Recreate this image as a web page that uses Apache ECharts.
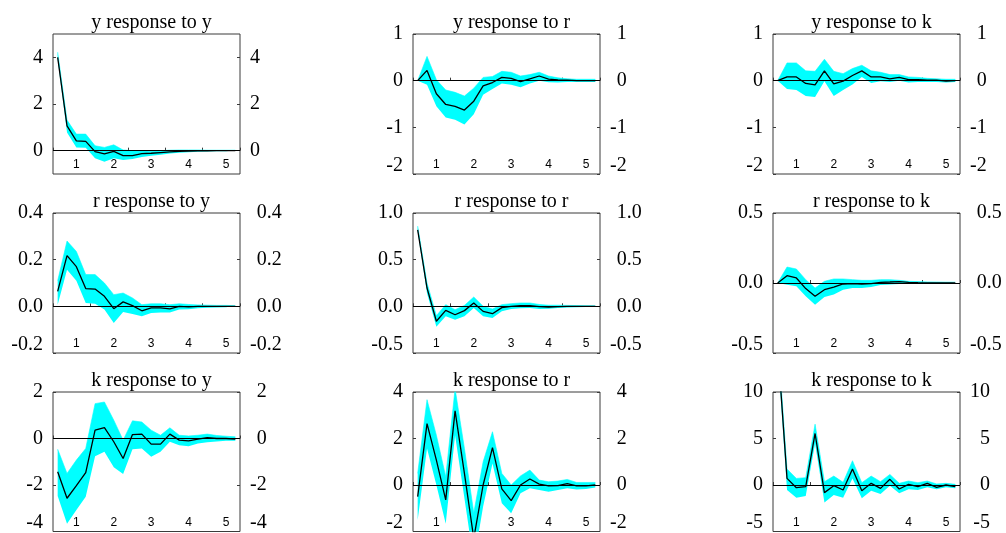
<!DOCTYPE html>
<html><head><meta charset="utf-8">
<script src="https://cdn.jsdelivr.net/npm/echarts@6/dist/echarts.min.js"></script>
<style>html,body{margin:0;padding:0;background:#fff}#c{width:1006px;height:533px}</style>
</head><body><div id="c"></div>
<script>
// ---- data ----
const steps = [1,2,3,4,5,6,7,8,9,10,11,12,13,14,15,16,17,18,19,20];
const yearLabels = ['1','2','3','4','5'];
const titles = ['y response to y','y response to r','y response to k',
                'r response to y','r response to r','r response to k',
                'k response to y','k response to r','k response to k'];

const resp_yy = [4.0,1.06,0.42,0.40,-0.04,-0.14,-0.03,-0.21,-0.21,-0.13,-0.11,-0.08,-0.05,-0.03,-0.02,-0.01,-0.01,0.0,0.0,0.0];
const hi_yy   = [4.22,1.31,0.71,0.71,0.21,0.14,0.25,0.03,0.0,0.0,-0.02,0.0,0.02,0.03,0.03,0.03,0.02,0.02,0.02,0.02];
const lo_yy   = [3.9,0.78,0.14,0.12,-0.33,-0.47,-0.33,-0.40,-0.36,-0.27,-0.22,-0.17,-0.12,-0.09,-0.07,-0.05,-0.04,-0.03,-0.03,-0.02];

const resp_yr = [0,0.22,-0.28,-0.51,-0.55,-0.63,-0.44,-0.11,-0.04,0.07,0.05,-0.02,0.04,0.10,0.035,0.015,0.01,0.0,0.0,0.0];
const hi_yr   = [0,0.52,0.02,-0.20,-0.25,-0.33,-0.16,0.07,0.09,0.20,0.18,0.10,0.13,0.18,0.10,0.06,0.04,0.03,0.03,0.03];
const lo_yr   = [0,-0.09,-0.55,-0.79,-0.84,-0.94,-0.72,-0.30,-0.18,-0.06,-0.09,-0.14,-0.06,0.0,-0.035,-0.04,-0.03,-0.03,-0.03,-0.03];

const resp_yk = [0,0.08,0.08,-0.06,-0.09,0.21,-0.07,-0.01,0.11,0.21,0.08,0.08,0.04,0.07,0.02,0.02,0.01,0.01,-0.01,0.0];
const hi_yk   = [0,0.38,0.38,0.21,0.20,0.46,0.20,0.15,0.26,0.33,0.21,0.18,0.13,0.13,0.08,0.07,0.05,0.04,0.03,0.03];
const lo_yk   = [0,-0.18,-0.20,-0.33,-0.35,-0.01,-0.33,-0.20,-0.08,0.08,-0.05,-0.01,-0.03,0.0,-0.04,-0.03,-0.03,-0.03,-0.04,-0.03];

const resp_ry = [0.064,0.217,0.17,0.076,0.074,0.043,-0.01,0.019,0.003,-0.019,-0.007,-0.007,-0.011,0.0,-0.002,0.0,0.0,0.0,0.0,0.0];
const hi_ry   = [0.11,0.28,0.235,0.136,0.136,0.10,0.05,0.057,0.036,0.007,0.011,0.011,0.007,0.011,0.008,0.006,0.005,0.004,0.004,0.003];
const lo_ry   = [0.007,0.157,0.11,0.014,0.011,-0.014,-0.071,-0.024,-0.033,-0.043,-0.029,-0.026,-0.026,-0.014,-0.012,-0.008,-0.006,-0.005,-0.004,-0.003];

const resp_rr = [0.82,0.196,-0.16,-0.043,-0.09,-0.046,0.036,-0.054,-0.079,-0.014,0.0,0.007,0.007,-0.004,-0.007,-0.003,0.0,0.0,0.0,0.0];
const hi_rr   = [0.86,0.25,-0.10,0.018,-0.036,0.01,0.10,0.0,-0.029,0.018,0.029,0.036,0.036,0.02,0.012,0.012,0.01,0.008,0.007,0.006];
const lo_rr   = [0.80,0.14,-0.22,-0.107,-0.143,-0.107,-0.018,-0.107,-0.125,-0.054,-0.029,-0.021,-0.018,-0.029,-0.025,-0.018,-0.012,-0.01,-0.008,-0.007];

const resp_rk = [0,0.052,0.036,-0.04,-0.095,-0.048,-0.029,-0.007,-0.005,-0.007,-0.005,0.005,0.007,0.01,0.004,0.002,0.001,0.0,0.0,0.0];
const hi_rk   = [0,0.114,0.10,0.024,-0.036,0.012,0.029,0.029,0.024,0.019,0.019,0.024,0.024,0.019,0.012,0.01,0.008,0.007,0.006,0.006];
const lo_rk   = [0,-0.012,-0.024,-0.095,-0.155,-0.10,-0.083,-0.048,-0.036,-0.036,-0.029,-0.014,-0.01,-0.007,-0.006,-0.006,-0.006,-0.005,-0.005,-0.005];

const resp_ky = [-1.43,-2.57,-2.03,-1.47,0.36,0.47,-0.14,-0.86,0.17,0.19,-0.24,-0.24,0.19,-0.07,-0.10,-0.03,0.04,0.0,0.0,-0.03];
const hi_ky   = [-0.46,-1.5,-0.93,-0.43,1.5,1.57,0.79,-0.07,0.76,0.71,0.36,0.14,0.46,0.14,0.11,0.14,0.19,0.13,0.10,0.07];
const lo_ky   = [-2.47,-3.67,-3.07,-2.5,-0.76,-0.57,-1.24,-1.53,-0.46,-0.43,-0.79,-0.57,-0.14,-0.29,-0.33,-0.21,-0.16,-0.13,-0.10,-0.10];

const resp_kr = [-0.5,2.64,1.07,-0.64,3.19,0.5,-2.3,0.0,1.61,-0.17,-0.67,0.0,0.26,0.04,-0.04,-0.03,0.06,-0.04,-0.04,0.0];
const hi_kr   = [0.5,3.67,2.14,0.36,4.14,1.57,-1.2,1.0,2.29,0.5,0.0,0.39,0.64,0.21,0.14,0.17,0.24,0.11,0.11,0.11];
const lo_kr   = [-1.5,1.57,0.0,-1.67,2.14,-0.57,-3.3,-0.93,0.93,-0.79,-1.21,-0.36,-0.14,-0.21,-0.29,-0.21,-0.14,-0.19,-0.17,-0.11];

const resp_kk = [15.0,0.71,-0.29,-0.18,5.54,-0.82,-0.07,-0.54,1.71,-0.61,0.18,-0.36,0.61,-0.43,0.07,-0.18,0.18,-0.25,0.0,-0.18];
const hi_kk   = [16.0,1.71,0.71,0.79,6.54,0.36,0.96,0.29,2.61,0.25,0.96,0.36,1.14,0.18,0.43,0.25,0.43,0.11,0.18,0.07];
const lo_kk   = [14.0,-0.54,-1.36,-1.18,4.46,-1.89,-1.07,-1.36,0.71,-1.43,-0.61,-0.96,-0.07,-0.89,-0.46,-0.54,-0.25,-0.46,-0.25,-0.36];

const yMin = [-1,-2,-2,-0.2,-0.5,-0.5,-4,-2,-5];
const yMax = [5,1,1,0.4,1.0,0.5,2,4,10];
const yTicks = [[0,2,4],[-2,-1,0,1],[-2,-1,0,1],[-0.2,0,0.2,0.4],[-0.5,0,0.5,1],[-0.5,0,0.5],[-4,-2,0,2],[-2,0,2,4],[-5,0,5,10]];
const yDecimals = [0,0,0,1,1,1,0,0,0];

// ---- build ----
const resps = [resp_yy,resp_yr,resp_yk,resp_ry,resp_rr,resp_rk,resp_ky,resp_kr,resp_kk];
const his = [hi_yy,hi_yr,hi_yk,hi_ry,hi_rr,hi_rk,hi_ky,hi_kr,hi_kk];
const los = [lo_yy,lo_yr,lo_yk,lo_ry,lo_rr,lo_rk,lo_ky,lo_kr,lo_kk];

const colLeft = [53, 413, 773];
const rowTop = [34, 213, 392];
const W = 187, H = 140;
const serif = 'Liberation Serif', sans = 'Liberation Sans';
const ySize = 20, tSize = 20;

const ctx = document.createElement('canvas').getContext('2d');
ctx.font = ySize + 'px "' + serif + '"';

const grid = [], xAxis = [], yAxis = [], series = [], title = [];
for (let p = 0; p < 9; p++) {
  const r = Math.floor(p / 3), c = p % 3;
  grid.push({left: colLeft[c], top: rowTop[r], width: W, height: H, show: true,
    borderColor: '#3a3a3a', borderWidth: 1, backgroundColor: 'transparent'});
  title.push({text: titles[p], left: colLeft[c] + W / 2, top: rowTop[r] - 26, textAlign: 'center',
    textStyle: {fontFamily: serif, fontSize: tSize, fontWeight: 'normal', color: '#000'}});
  xAxis.push({type: 'category', gridIndex: p, data: steps, boundaryGap: true,
    axisLine: {show: false},
    axisTick: {show: true, inside: true, length: 3, interval: 3, lineStyle: {color: '#3a3a3a'}},
    axisLabel: {show: true, inside: true, margin: 3, fontFamily: sans, fontSize: 12, color: '#000',
      interval: (idx) => idx % 4 === 2,
      formatter: (v, idx) => yearLabels[Math.floor(idx / 4)]},
    splitLine: {show: false}});
  const dec = yDecimals[p], mn = yMin[p];
  const labs = yTicks[p].map(v => v.toFixed(dec));
  const maxW = Math.max(...labs.map(s => ctx.measureText(s).width));
  const fmt = (v) => {
    const s = v.toFixed(dec);
    return Math.abs(v - mn) < 1e-9 ? '{lo|' + s + '}' : s;
  };
  const rich = {lo: {fontFamily: serif, fontSize: ySize, color: '#000', padding: [0, 0, 17, 0]}};
  const base = (pos, extra) => Object.assign({
    type: 'value', gridIndex: p, position: pos, min: yMin[p], max: yMax[p],
    axisLine: {show: false}, splitLine: {show: false},
    axisTick: {show: true, inside: true, length: 3, customValues: yTicks[p], lineStyle: {color: '#3a3a3a'}},
  }, extra);
  yAxis.push(base('left', {axisLabel: {customValues: yTicks[p], formatter: fmt, rich, margin: 10,
    fontFamily: serif, fontSize: ySize, color: '#000'}}));
  yAxis.push(base('right', {axisLabel: {customValues: yTicks[p], formatter: fmt, rich, margin: 10 + maxW,
    align: 'right', fontFamily: serif, fontSize: ySize, color: '#000'}}));
  const diff = his[p].map((h, i) => h - los[p][i]);
  series.push({type: 'line', xAxisIndex: p, yAxisIndex: 2 * p, stack: 'b' + p, stackStrategy: 'all',
    data: los[p], symbol: 'none', lineStyle: {opacity: 0}, z: 1, silent: true});
  series.push({type: 'line', xAxisIndex: p, yAxisIndex: 2 * p, stack: 'b' + p, stackStrategy: 'all',
    data: diff, symbol: 'none', lineStyle: {width: 0.6, color: '#00FFFF'},
    areaStyle: {color: '#00FFFF', opacity: 1}, z: 2, silent: true});
  series.push({type: 'line', xAxisIndex: p, yAxisIndex: 2 * p, data: resps[p], symbol: 'none',
    lineStyle: {color: '#000', width: 1.3}, z: 5, silent: true,
    markLine: {silent: true, symbol: ['none', 'none'], label: {show: false},
      lineStyle: {color: '#000', width: 1, type: 'solid'}, data: [{yAxis: 0}], animation: false}});
}

const chart = echarts.init(document.getElementById('c'), null, {renderer: 'canvas'});
chart.setOption({animation: false, backgroundColor: '#fff', title, grid, xAxis, yAxis, series});
</script></body></html>
